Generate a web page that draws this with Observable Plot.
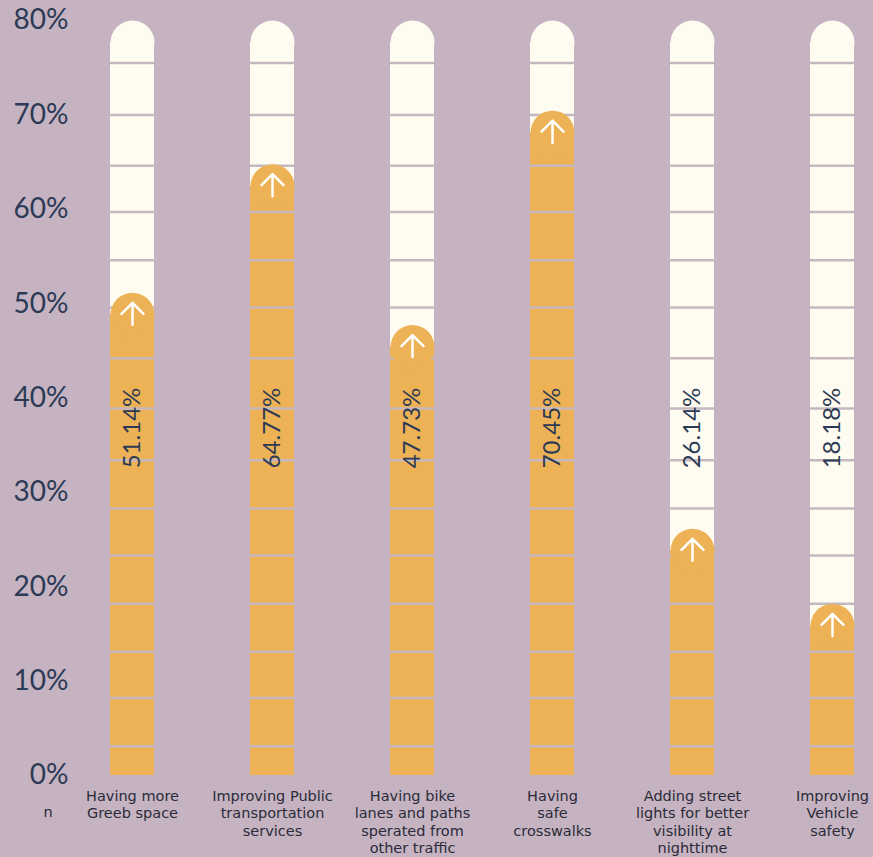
<!DOCTYPE html>
<html>
<head>
<meta charset="utf-8">
<script src="https://cdn.jsdelivr.net/npm/d3@7"></script>
<script src="https://cdn.jsdelivr.net/npm/@observablehq/plot@0.6"></script>
<style>
  html, body { margin: 0; padding: 0; background: #c5b3c2; }
  #chart svg { display: block; }
</style>
</head>
<body>
<div id="chart"></div>
<script>
// ---- Data ----
const categories = [
  "Having more\nGreeb space",
  "Improving Public\ntransportation\nservices",
  "Having bike\nlanes and paths\nsperated from\nother traffic",
  "Having\nsafe\ncrosswalks",
  "Adding street\nlights for better\nvisibility at\nnighttime",
  "Improving\nVehicle\nsafety"
];
const values = [51.14, 64.77, 47.73, 70.45, 26.14, 18.18];
const valueLabels = ["51.14%", "64.77%", "47.73%", "70.45%", "26.14%", "18.18%"];
const yTicks = [0, 10, 20, 30, 40, 50, 60, 70, 80];
const trackMax = 80;
const segmentLines = [3.1, 8.2, 13.1, 18.2, 23.3, 28.3, 33.4, 38.9, 44.2, 49.6, 54.6, 59.7, 64.6, 70.0, 75.5];
const footnote = ["n"];

// ---- Styles ----
const cream = "#fefbf0";
const orange = "#edb256";
const lineColor = "#c6b8c1";
const navy = "#2c3a55";

const bars = categories.map((c, i) => ({category: c, value: values[i], label: valueLabels[i]}));
const lines = categories.flatMap(c => segmentLines.map(v => ({category: c, v})));

const arrowSymbol = {
  draw(ctx, size) {
    const r = Math.sqrt(size / Math.PI);
    ctx.moveTo(0, r);
    ctx.lineTo(0, -r);
    ctx.moveTo(-r, 0);
    ctx.lineTo(0, -r);
    ctx.lineTo(r, 0);
  }
};

const chart = Plot.plot({
  width: 873,
  height: 857,
  marginTop: 20,
  marginBottom: 82,
  marginLeft: 96,
  marginRight: 5,
  style: {background: "#c5b3c2", fontFamily: "Lato, sans-serif"},
  x: {domain: categories, paddingInner: 0.686, paddingOuter: 0.1, axis: null},
  y: {domain: [0, trackMax], axis: null},
  marks: [
    // cream track
    Plot.barY(bars, {x: "category", y1: 0, y2: trackMax, fill: cream, insetTop: 22}),
    Plot.dot(bars, {x: "category", y: trackMax, dy: 22, r: 22, fill: cream}),
    // orange value bar
    Plot.barY(bars, {x: "category", y1: 0, y2: "value", fill: orange, insetTop: 22}),
    // segment separators
    Plot.tickY(lines, {x: "category", y: "v", stroke: lineColor, strokeWidth: 2.5}),
    // rounded cap + arrow
    Plot.dot(bars, {x: "category", y: "value", dy: 22, r: 22, fill: orange}),
    Plot.dot(bars, {x: "category", y: "value", dy: 21, r: 11, symbol: arrowSymbol, stroke: "#ffffff", fill: "none", strokeWidth: 2.5, strokeLinecap: "round", strokeLinejoin: "round"}),
    // value labels
    Plot.text(bars, {x: "category", text: "label", frameAnchor: "middle", dy: 30, rotate: -90, fontSize: 24, fill: navy, fontFamily: "Lato, sans-serif"}),
    // y axis
    Plot.axisY({ticks: yTicks, tickFormat: d => d + "%", tickSize: 0, tickPadding: 28, fontSize: 28, color: navy, fontFamily: "Lato, sans-serif"}),
    // category labels
    Plot.text(categories, {x: d => d, y: 0, text: d => d, dy: 13, lineAnchor: "top", fontSize: 14.5, lineHeight: 1.2, fill: "#2b2b38", fontFamily: "'DejaVu Sans', sans-serif"}),
    Plot.text(footnote, {frameAnchor: "bottom-left", text: d => d, dx: -53, dy: 41, fontSize: 14.5, fill: "#2b2b38", fontFamily: "'DejaVu Sans', sans-serif"})
  ]
});
document.getElementById("chart").append(chart);
</script>
</body>
</html>
